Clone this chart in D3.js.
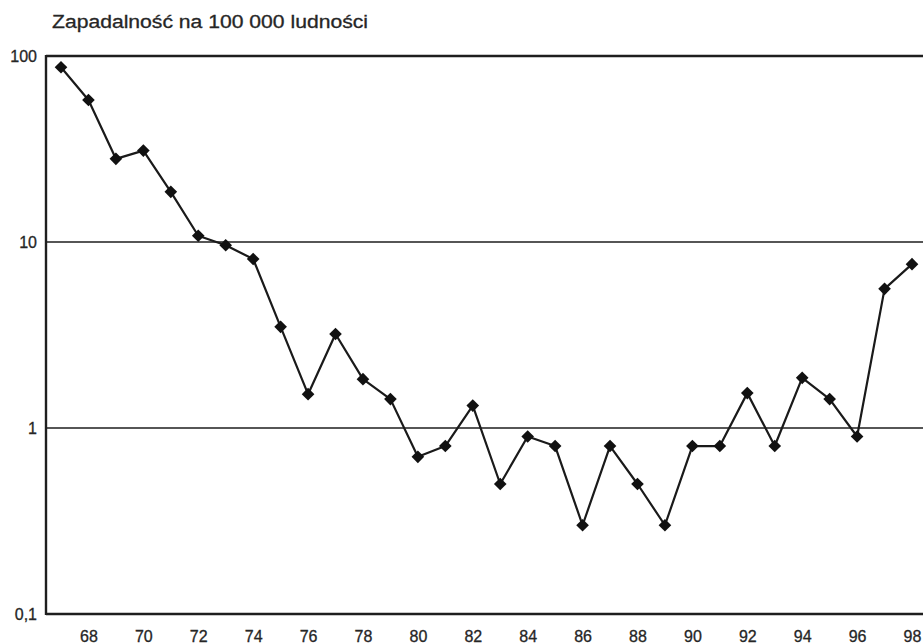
<!DOCTYPE html>
<html>
<head>
<meta charset="utf-8">
<script src="https://cdn.jsdelivr.net/npm/d3@7"></script>
<style>
  html, body { margin: 0; padding: 0; background: #fff; }
  svg { display: block; }
  text { font-family: "Liberation Sans", Arial, Helvetica, sans-serif; fill: #262626; stroke: #262626; stroke-width: 0.3px; }
</style>
</head>
<body>
<svg id="chart" width="923" height="644"></svg>
<script>
const title = "Zapadalność na 100 000 ludności";
const years = [67,68,69,70,71,72,73,74,75,76,77,78,79,80,81,82,83,84,85,86,87,88,89,90,91,92,93,94,95,96,97,98];
const values = [87,58,28,31,18.6,10.8,9.6,8.1,3.5,1.52,3.2,1.83,1.43,0.70,0.80,1.32,0.50,0.90,0.80,0.30,0.80,0.50,0.30,0.80,0.80,1.54,0.80,1.86,1.43,0.90,5.6,7.6];
const xTickValues = [68,70,72,74,76,78,80,82,84,86,88,90,92,94,96,98];
const yTickValues = [0.1,1,10,100];
const yTickLabels = ["0,1","1","10","100"];

const W = 923, H = 644;
const mLeft = 46, mRight = 923, mTop = 56, mBottom = 614;

const svg = d3.select("#chart");
const x = d3.scaleLinear().domain([67, 98]).range([61, 912]);
const y = d3.scaleLog().domain([0.1, 100]).range([mBottom, mTop]);

// title
svg.append("text")
  .attr("x", 52).attr("y", 28)
  .attr("font-size", 18)
  .attr("textLength", 316).attr("lengthAdjust", "spacingAndGlyphs")
  .text(title);

// horizontal lines (gridlines at 1 and 10, frame at 0.1 and 100)
svg.append("g").selectAll("line")
  .data(yTickValues)
  .join("line")
  .attr("x1", mLeft).attr("x2", mRight)
  .attr("y1", d => y(d)).attr("y2", d => y(d))
  .attr("stroke", "#1e1e1e")
  .attr("stroke-width", d => (d === 0.1 || d === 100) ? 2.4 : 1.6);

// left axis line
svg.append("line")
  .attr("x1", mLeft).attr("x2", mLeft)
  .attr("y1", mTop - 1).attr("y2", mBottom + 1)
  .attr("stroke", "#1e1e1e").attr("stroke-width", 2.4);

// y labels
const yAxis = d3.axisLeft(y).tickValues(yTickValues)
  .tickFormat((d, i) => yTickLabels[i]).tickSize(0).tickPadding(9);
const gy = svg.append("g").attr("transform", `translate(${mLeft},0)`).call(yAxis);
gy.select(".domain").remove();
gy.selectAll("text").attr("font-size", 16).attr("font-family", null).attr("fill", "#262626");

// x labels
const xAxis = d3.axisBottom(x).tickValues(xTickValues).tickFormat(d => String(d)).tickSize(0).tickPadding(17);
const gx = svg.append("g").attr("transform", `translate(0,${mBottom})`).call(xAxis);
gx.select(".domain").remove();
gx.selectAll("text").attr("font-size", 16).attr("font-family", null).attr("fill", "#262626");

// data line
const data = years.map((yr, i) => ({yr, v: values[i]}));
svg.append("path")
  .datum(data)
  .attr("fill", "none")
  .attr("stroke", "#1a1a1a")
  .attr("stroke-width", 2.2)
  .attr("stroke-linejoin", "round")
  .attr("d", d3.line().x(d => x(d.yr)).y(d => y(d.v)));

// markers (diamonds)
svg.append("g").selectAll("path")
  .data(data)
  .join("path")
  .attr("transform", d => `translate(${x(d.yr)},${y(d.v)}) rotate(45)`)
  .attr("d", d3.symbol().type(d3.symbolSquare).size(80)())
  .attr("fill", "#111");
</script>
</body>
</html>
